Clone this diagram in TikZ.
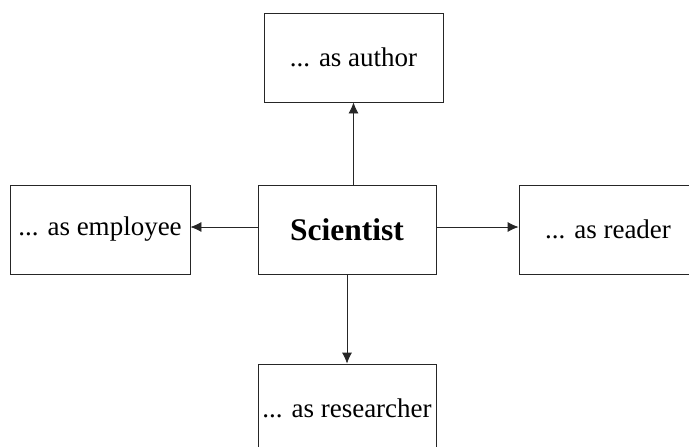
\documentclass[tikz,border=0pt]{standalone}
\usepackage{fontspec}
\setmainfont{Liberation Serif}
\usetikzlibrary{arrows.meta}
\tikzset{
    block/.style = {draw=black!85, line width=0.8pt, rectangle,
        minimum height=89pt,
        minimum width=178pt, inner sep=0pt,
        font=\fontsize{27}{30}\selectfont},
    mainblock/.style = {block, font=\fontsize{31.5}{34}\selectfont\bfseries},
    arrow/.style = {draw=black!85, line width=0.8pt, -{Latex[length=11pt,width=10pt]}}
}
\begin{document}
\begin{tikzpicture}[x=1pt,y=-1pt]
    \path[use as bounding box, clip] (0,0) rectangle (689,447);
    \node[mainblock] (sci) at (347,229.5) {Scientist};
    \node[block,minimum width=179pt] (author) at (353.5,57.5) {... as author};
    \node[block,minimum width=180pt] (employee) at (100,229.5) {... as employee};
    \node[block] (reader) at (608,229.5) {... as reader};
    \node[block] (researcher) at (347,408.5) {... as researcher};
    \draw[arrow] (author.south |- sci.north) -- (author.south);
    \draw[arrow] (sci.south) -- (researcher.north);
    \draw[arrow] ([yshift=2.5pt]sci.west) -- ([yshift=2.5pt]employee.east);
    \draw[arrow] ([yshift=2.5pt]sci.east) -- ([yshift=2.5pt]reader.west);
\end{tikzpicture}
\end{document}
